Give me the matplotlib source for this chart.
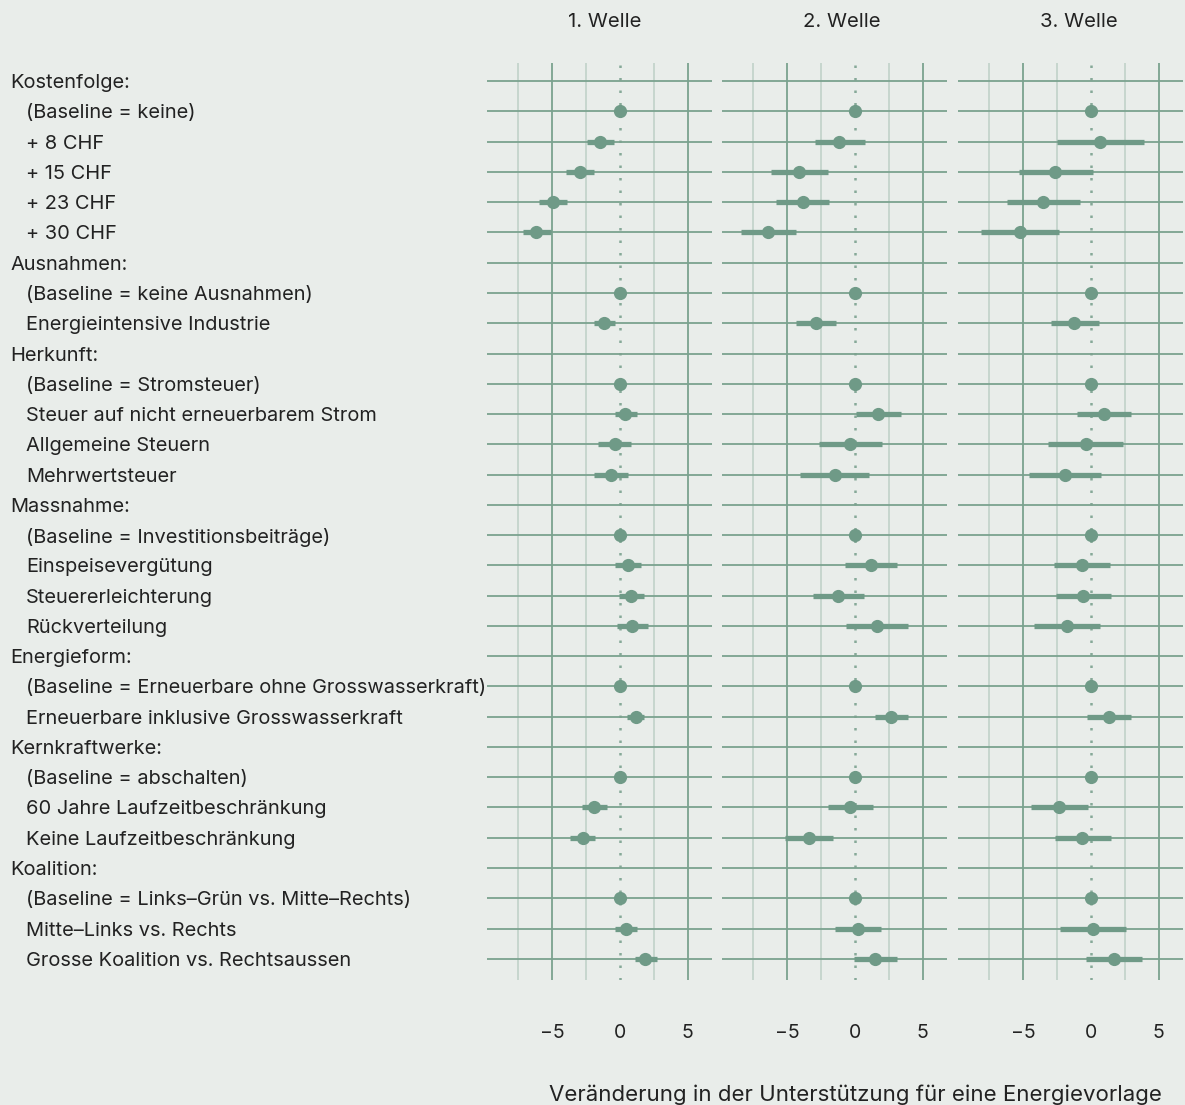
import numpy as np
import matplotlib
matplotlib.use('Agg')
import matplotlib.pyplot as plt
from matplotlib.transforms import blended_transform_factory

plt.rcParams['font.family'] = ['Inter', 'DejaVu Sans']

nan = np.nan

rows = ["Kostenfolge:", "(Baseline = keine)", "+ 8 CHF", "+ 15 CHF", "+ 23 CHF", "+ 30 CHF",
        "Ausnahmen:", "(Baseline = keine Ausnahmen)", "Energieintensive Industrie",
        "Herkunft:", "(Baseline = Stromsteuer)", "Steuer auf nicht erneuerbarem Strom",
        "Allgemeine Steuern", "Mehrwertsteuer",
        "Massnahme:", "(Baseline = Investitionsbeiträge)", "Einspeisevergütung",
        "Steuererleichterung", "Rückverteilung",
        "Energieform:", "(Baseline = Erneuerbare ohne Grosswasserkraft)",
        "Erneuerbare inklusive Grosswasserkraft",
        "Kernkraftwerke:", "(Baseline = abschalten)", "60 Jahre Laufzeitbeschränkung",
        "Keine Laufzeitbeschränkung",
        "Koalition:", "(Baseline = Links–Grün vs. Mitte–Rechts)", "Mitte–Links vs. Rechts",
        "Grosse Koalition vs. Rechtsaussen"]
is_header = [r.endswith(':') for r in rows]

waves = ["1. Welle", "2. Welle", "3. Welle"]

w1_est = [nan, 0, -1.45, -2.94, -4.93, -6.15, nan, 0, -1.2, nan, 0, 0.39, -0.39, -0.66, nan, 0, 0.59, 0.86, 0.9,
          nan, 0, 1.18, nan, 0, -1.89, -2.75, nan, 0, 0.42, 1.89]
w1_lo = [nan, 0, -2.4, -3.95, -5.93, -7.16, nan, 0, -1.94, nan, 0, -0.39, -1.6, -1.89, nan, 0, -0.34, -0.07, -0.22,
         nan, 0, 0.56, nan, 0, -2.79, -3.68, nan, 0, -0.37, 1.1]
w1_hi = [nan, 0, -0.45, -1.94, -3.9, -5.1, nan, 0, -0.39, nan, 0, 1.23, 0.83, 0.61, nan, 0, 1.54, 1.82, 2.08,
         nan, 0, 1.79, nan, 0, -0.95, -1.84, nan, 0, 1.23, 2.72]

w2_est = [nan, 0, -1.14, -4.14, -3.85, -6.41, nan, 0, -2.85, nan, 0, 1.72, -0.33, -1.48, nan, 0, 1.16, -1.23, 1.63,
          nan, 0, 2.68, nan, 0, -0.33, -3.39, nan, 0, 0.21, 1.5]
w2_lo = [nan, 0, -2.97, -6.2, -5.83, -8.39, nan, 0, -4.36, nan, 0, 0.09, -2.62, -4.05, nan, 0, -0.75, -3.09, -0.65,
         nan, 0, 1.48, nan, 0, -1.96, -5.15, nan, 0, -1.48, -0.06]
w2_hi = [nan, 0, 0.77, -2.0, -1.87, -4.36, nan, 0, -1.36, nan, 0, 3.39, 1.99, 1.08, nan, 0, 3.09, 0.7, 3.9,
         nan, 0, 3.92, nan, 0, 1.33, -1.63, nan, 0, 1.94, 3.14]

w3_est = [nan, 0, 0.68, -2.62, -3.5, -5.23, nan, 0, -1.22, nan, 0, 0.98, -0.39, -1.94, nan, 0, -0.64, -0.59, -1.74,
          nan, 0, 1.34, nan, 0, -2.32, -0.64, nan, 0, 0.17, 1.71]
w3_lo = [nan, 0, -2.49, -5.31, -6.2, -8.12, nan, 0, -2.96, nan, 0, -1.05, -3.15, -4.57, nan, 0, -2.69, -2.57, -4.16,
         nan, 0, -0.25, nan, 0, -4.38, -2.62, nan, 0, -2.25, -0.34]
w3_hi = [nan, 0, 3.89, 0.15, -0.78, -2.35, nan, 0, 0.59, nan, 0, 3.0, 2.37, 0.76, nan, 0, 1.42, 1.47, 0.7,
         nan, 0, 3.0, nan, 0, -0.2, 1.49, nan, 0, 2.59, 3.76]

xticks = [-5, 0, 5]
xticklabels = ["\u22125", "0", "5"]

bg = '#e9edea'
green = '#6f9a87'
gridc = '#7ba28f'
minorc = '#c4d4cb'
txt = '#222222'

fig = plt.figure(figsize=(11.85, 11.05), dpi=100, facecolor=bg)

lefts = [487 / 1185, 722 / 1185, 958 / 1185]
title_x = [605 / 1185, 842 / 1185, 1079 / 1185]
data = [(w1_est, w1_lo, w1_hi), (w2_est, w2_lo, w2_hi), (w3_est, w3_lo, w3_hi)]
y = np.arange(len(rows))

axes = []
for i, (est, lo, hi) in enumerate(data):
    ax = fig.add_axes([lefts[i], 1 - 980 / 1105, 225 / 1185, (980 - 63) / 1105])
    ax.set_facecolor(bg)
    ax.set_xlim(-9.8, 6.8)
    ax.set_ylim(29.7, -0.6)
    for s in ax.spines.values():
        s.set_visible(False)
    # grid lines
    for xm in [-7.5, -2.5, 2.5]:
        ax.axvline(xm, color=minorc, lw=1.3, zorder=1)
    for xm in [-5, 5]:
        ax.axvline(xm, color=gridc, lw=1.3, zorder=1)
    ax.axvline(0, color='#86a998', lw=1.8, ls=(0, (1, 4)), zorder=1)
    for yy in y:
        ax.axhline(yy, color=gridc, lw=1.3, zorder=1)
    # estimates + CI
    est = np.array(est)
    lo = np.array(lo)
    hi = np.array(hi)
    ax.hlines(y, lo, hi, color=green, lw=3.8, zorder=2)
    ax.plot(est, y, 'o', color=green, ms=9.5, mec='none', zorder=3)
    ax.set_yticks([])
    ax.set_xticks(xticks)
    ax.set_xticklabels(xticklabels, fontsize=14, color=txt)
    ax.tick_params(axis='x', length=0, pad=32)
    fig.text(title_x[i], 1 - 22 / 1105, waves[i], ha='center', va='center', fontsize=14.6, color=txt)
    axes.append(ax)

# row labels on the left
tr = blended_transform_factory(fig.transFigure, axes[0].transData)
for yy, lab, hd in zip(y, rows, is_header):
    xx = 10 / 1185 if hd else 26 / 1185
    fig.text(xx, yy, lab, transform=tr, ha='left', va='center_baseline', fontsize=14.4, color=txt)

fig.text(855.5 / 1185, 1 - 1095 / 1105, "Veränderung in der Unterstützung für eine Energievorlage",
         ha='center', va='center', fontsize=16, color=txt)

fig.savefig('out.png', dpi=100, facecolor=bg)
